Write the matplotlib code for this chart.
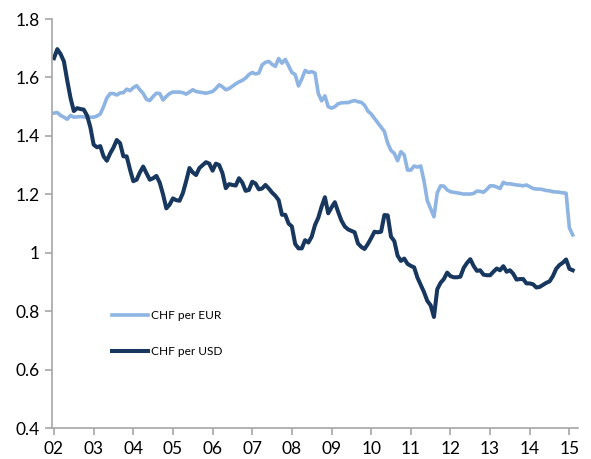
import numpy as np
import matplotlib
matplotlib.use("Agg")
import matplotlib.pyplot as plt

# monthly values, Jan 2002 - Feb 2015
chf_per_eur = (
    [1.478, 1.48, 1.47, 1.464, 1.457, 1.47, 1.464, 1.465, 1.466, 1.465, 1.464, 1.464]      # 2002
    + [1.464, 1.468, 1.475, 1.50, 1.53, 1.545, 1.545, 1.54, 1.547, 1.548, 1.56, 1.555]     # 2003
    + [1.565, 1.572, 1.558, 1.545, 1.525, 1.521, 1.535, 1.546, 1.545, 1.523, 1.535, 1.545]  # 2004
    + [1.55, 1.55, 1.55, 1.548, 1.543, 1.55, 1.558, 1.552, 1.55, 1.548, 1.546, 1.549]      # 2005
    + [1.552, 1.562, 1.575, 1.568, 1.558, 1.562, 1.57, 1.578, 1.585, 1.59, 1.598, 1.61]    # 2006
    + [1.617, 1.612, 1.615, 1.643, 1.652, 1.655, 1.645, 1.638, 1.665, 1.649, 1.662, 1.64]  # 2007
    + [1.617, 1.61, 1.571, 1.595, 1.624, 1.617, 1.62, 1.615, 1.545, 1.52, 1.537, 1.50]     # 2008
    + [1.495, 1.50, 1.51, 1.513, 1.514, 1.514, 1.518, 1.521, 1.517, 1.515, 1.505, 1.485]   # 2009
    + [1.475, 1.46, 1.445, 1.43, 1.415, 1.375, 1.35, 1.34, 1.315, 1.346, 1.335, 1.283]     # 2010
    + [1.283, 1.297, 1.293, 1.297, 1.245, 1.178, 1.15, 1.123, 1.205, 1.229, 1.228, 1.215]  # 2011
    + [1.209, 1.207, 1.205, 1.203, 1.201, 1.201, 1.201, 1.203, 1.211, 1.21, 1.207, 1.217]  # 2012
    + [1.229, 1.229, 1.225, 1.22, 1.241, 1.236, 1.236, 1.234, 1.232, 1.231, 1.229, 1.232]  # 2013
    + [1.226, 1.22, 1.218, 1.218, 1.216, 1.213, 1.212, 1.209, 1.208, 1.207, 1.205, 1.204]  # 2014
    + [1.085, 1.061]                                                                       # 2015
)

chf_per_usd = (
    [1.666, 1.697, 1.68, 1.655, 1.59, 1.53, 1.485, 1.495, 1.492, 1.49, 1.47, 1.43]         # 2002
    + [1.37, 1.361, 1.365, 1.33, 1.315, 1.34, 1.36, 1.386, 1.375, 1.33, 1.33, 1.285]       # 2003
    + [1.245, 1.25, 1.275, 1.295, 1.272, 1.25, 1.255, 1.263, 1.24, 1.20, 1.152, 1.165]     # 2004
    + [1.186, 1.18, 1.178, 1.204, 1.245, 1.29, 1.275, 1.266, 1.29, 1.30, 1.31, 1.305]      # 2005
    + [1.281, 1.305, 1.30, 1.272, 1.221, 1.235, 1.232, 1.23, 1.255, 1.24, 1.212, 1.215]    # 2006
    + [1.243, 1.237, 1.217, 1.22, 1.232, 1.22, 1.206, 1.195, 1.18, 1.13, 1.13, 1.10]       # 2007
    + [1.09, 1.03, 1.015, 1.015, 1.043, 1.035, 1.055, 1.095, 1.12, 1.158, 1.19, 1.135]     # 2008
    + [1.155, 1.173, 1.14, 1.11, 1.09, 1.08, 1.075, 1.07, 1.032, 1.02, 1.013, 1.03]        # 2009
    + [1.05, 1.072, 1.07, 1.072, 1.129, 1.128, 1.055, 1.04, 0.99, 0.972, 0.98, 0.962]      # 2010
    + [0.955, 0.95, 0.915, 0.89, 0.865, 0.835, 0.82, 0.78, 0.875, 0.897, 0.91, 0.932]      # 2011
    + [0.92, 0.916, 0.916, 0.918, 0.948, 0.965, 0.978, 0.955, 0.938, 0.94, 0.925, 0.923]   # 2012
    + [0.923, 0.935, 0.946, 0.94, 0.954, 0.935, 0.94, 0.928, 0.908, 0.91, 0.91, 0.895]     # 2013
    + [0.895, 0.892, 0.881, 0.883, 0.89, 0.897, 0.902, 0.92, 0.945, 0.958, 0.966, 0.977]   # 2014
    + [0.945, 0.94]                                                                        # 2015
)

year_labels = ["02", "03", "04", "05", "06", "07", "08", "09", "10", "11", "12", "13", "14", "15"]

plt.rcParams["font.family"] = ["Lato", "DejaVu Sans"]

fig = plt.figure(figsize=(5.91, 4.59), dpi=100)
ax = fig.add_axes([0.088, 0.0675, 0.89, 0.891])

months = np.arange(len(chf_per_eur))
ax.plot(months, chf_per_eur, color="#8db4e2", lw=2.6, label="CHF per EUR", solid_joinstyle="round")
ax.plot(months, chf_per_usd, color="#17375e", lw=2.9, label="CHF per USD", solid_joinstyle="round")

ax.set_ylim(0.4, 1.8)
ax.set_yticks(np.arange(0.4, 1.81, 0.2))
ax.set_yticklabels(["0.4", "0.6", "0.8", "1", "1.2", "1.4", "1.6", "1.8"])
ax.set_xlim(-0.6, 158.6)
ax.set_xticks(np.arange(len(year_labels)) * 12)
ax.set_xticklabels(year_labels)

for side in ["top", "right"]:
    ax.spines[side].set_visible(False)
for side in ["left", "bottom"]:
    ax.spines[side].set_color("#a6a6a6")
    ax.spines[side].set_linewidth(1.2)
ax.tick_params(axis="both", colors="#a6a6a6", labelcolor="black", labelsize=12.5,
               length=5, width=1.2, direction="out")
ax.tick_params(axis="x", pad=4)
ax.tick_params(axis="y", pad=4)

ax.legend(loc="upper left", bbox_to_anchor=(0.115, 0.289), frameon=False, fontsize=8.6,
          handlelength=3.0, handletextpad=0.25, labelspacing=2.1, borderpad=0, borderaxespad=0)

plt.savefig("out.png", dpi=100)
